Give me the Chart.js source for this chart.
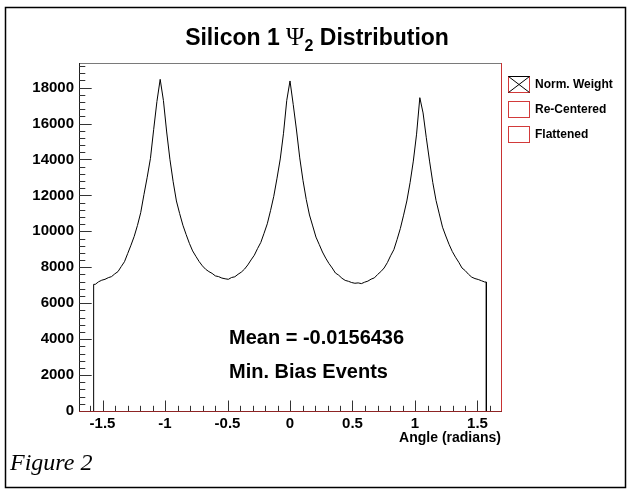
<!DOCTYPE html>
<html>
<head>
<meta charset="utf-8">
<script src="https://cdn.jsdelivr.net/npm/chart.js@4.4.1/dist/chart.umd.min.js"></script>
<style>
  html, body { margin: 0; padding: 0; background: #ffffff; }
  #wrap { width: 632px; height: 493px; position: relative; }
</style>
</head>
<body>
<div id="wrap"><canvas id="c" width="632" height="493"></canvas></div>
<script>
// ---- data -------------------------------------------------------------
const TITLE_MAIN = 'Silicon 1 ';
const TITLE_PSI = '\u03A8';
const TITLE_SUB = '2';
const TITLE_REST = ' Distribution';
const X_LABEL = 'Angle (radians)';
const SERIES_NAMES = ['Norm. Weight', 'Re-Centered', 'Flattened'];
const X_TICKS = [-1.5, -1, -0.5, 0, 0.5, 1, 1.5];
const Y_TICKS = [0, 2000, 4000, 6000, 8000, 10000, 12000, 14000, 16000, 18000];
const BIN_LOW = -Math.PI / 2;
const BIN_HIGH = Math.PI / 2;
// entries per bin, Norm. Weight
const COUNTS = [
  7050, 7190, 7280, 7330, 7420, 7480, 7630, 7760, 8040, 8310,
  8770, 9230, 9720, 10330, 11040, 12050, 13010, 14060, 15680, 17230,
  18460, 17280, 15530, 14010, 12760, 11690, 10990, 10340, 9820, 9330,
  8910, 8610, 8320, 8080, 7890, 7760, 7660, 7520, 7480, 7400,
  7360, 7330, 7430, 7470, 7610, 7730, 7900, 8130, 8410, 8670,
  9040, 9380, 9890, 10420, 11150, 11950, 12960, 14030, 15460, 17290,
  18370, 17050, 15640, 14090, 12840, 11780, 10910, 10300, 9680, 9270,
  8850, 8510, 8210, 7960, 7680, 7560, 7390, 7270, 7220, 7150,
  7110, 7130, 7090, 7170, 7230, 7340, 7410, 7600, 7760, 7960,
  8260, 8640, 8980, 9550, 10160, 10900, 11690, 12710, 13910, 15410,
  17440, 16590, 15210, 13910, 12710, 11720, 10970, 10230, 9740, 9280,
  8880, 8560, 8280, 7960, 7810, 7610, 7450, 7370, 7320, 7250,
  7180
];
const RECENTERED = [];
const FLATTENED = [];
const MEAN = -0.0156436;
const STATS_LINES = ['Mean = ' + MEAN, 'Min. Bias Events'];
const CAPTION = 'Figure 2';

// ---- histogram outline: bin centres, closed down to zero at both edges --
function histPoints(counts) {
  if (!counts.length) return [];
  const n = counts.length, w = (BIN_HIGH - BIN_LOW) / n;
  const pts = [{ x: BIN_LOW, y: 0 }, { x: BIN_LOW, y: counts[0] }];
  counts.forEach((v, i) => pts.push({ x: BIN_LOW + (i + 0.5) * w, y: v }));
  pts.push({ x: BIN_HIGH, y: counts[n - 1] });
  pts.push({ x: BIN_HIGH, y: 0 });
  return pts;
}

const SANS = '"Liberation Sans", Arial, Helvetica, sans-serif';

// frame, inward ticks, legend, labels and caption
const decorations = {
  id: 'decorations',
  afterDraw(chart) {
    const { ctx, chartArea: a, scales: { x, y } } = chart;
    ctx.save();

    // outer border of the figure
    ctx.strokeStyle = '#000';
    ctx.lineWidth = 1.5;
    ctx.strokeRect(5.5, 7.5, 620, 480);

    // frame lines
    ctx.lineWidth = 1;
    ctx.strokeStyle = '#7a7a7a';
    ctx.beginPath(); ctx.moveTo(a.left, a.top + 0.5); ctx.lineTo(a.right, a.top + 0.5); ctx.stroke();
    ctx.strokeStyle = '#c83232';
    ctx.beginPath(); ctx.moveTo(a.right + 0.5, a.top); ctx.lineTo(a.right + 0.5, a.bottom); ctx.stroke();
    ctx.strokeStyle = '#222';
    ctx.beginPath(); ctx.moveTo(a.left + 0.5, a.top); ctx.lineTo(a.left + 0.5, a.bottom); ctx.stroke();

    // ticks pointing into the frame
    ctx.strokeStyle = '#333';
    ctx.beginPath();
    for (let k = -16; k <= 16; k++) {
      const v = k / 10;
      const px = Math.round(x.getPixelForValue(v)) + 0.5;
      const len = (k % 5 === 0) ? 10.5 : 5.2;
      ctx.moveTo(px, a.bottom); ctx.lineTo(px, a.bottom - len);
    }
    for (let k = 0; k <= 48; k++) {
      const v = k * 400;
      if (v > y.max) break;
      const py = Math.round(y.getPixelForValue(v)) + 0.5;
      const len = (k % 5 === 0) ? 12.7 : 6.3;
      ctx.moveTo(a.left, py); ctx.lineTo(a.left + len, py);
    }
    ctx.stroke();

    // bottom axis line
    ctx.strokeStyle = '#8e2424';
    ctx.beginPath(); ctx.moveTo(a.left, a.bottom + 0.5); ctx.lineTo(a.right + 1, a.bottom + 0.5); ctx.stroke();

    // title
    ctx.fillStyle = '#000';
    ctx.textBaseline = 'alphabetic';
    const tBold = 'bold 23px ' + SANS;
    const tPsi = '25px "Liberation Serif", "DejaVu Serif", serif';
    const tSub = 'bold 16px ' + SANS;
    ctx.font = tBold; const w1 = ctx.measureText(TITLE_MAIN).width;
    const w4 = ctx.measureText(TITLE_REST).width;
    ctx.font = tPsi; const w2 = ctx.measureText(TITLE_PSI).width;
    ctx.font = tSub; const w3 = ctx.measureText(TITLE_SUB).width;
    let tx = 317 - (w1 + w2 + w3 + w4) / 2;
    const tb = 45;
    ctx.textAlign = 'left';
    ctx.font = tBold; ctx.fillText(TITLE_MAIN, tx, tb); tx += w1;
    ctx.font = tPsi; ctx.fillText(TITLE_PSI, tx, tb); tx += w2;
    ctx.font = tSub; ctx.fillText(TITLE_SUB, tx, tb + 6); tx += w3;
    ctx.font = tBold; ctx.fillText(TITLE_REST, tx, tb);

    // legend
    const boxes = [76.5, 101.5, 126.5];
    chart.data.datasets.forEach((ds, i) => {
      const bx = 508.5, by = boxes[i], bw = 21, bh = 16;
      ctx.strokeStyle = '#d23a3a';
      ctx.lineWidth = 1;
      ctx.strokeRect(bx, by, bw, bh);
      if (ds.data.length) {
        ctx.strokeStyle = '#000';
        ctx.beginPath();
        ctx.moveTo(bx, by); ctx.lineTo(bx + bw, by + bh);
        ctx.moveTo(bx + bw, by); ctx.lineTo(bx, by + bh);
        ctx.moveTo(bx, by); ctx.lineTo(bx + bw, by);
        ctx.stroke();
      }
      ctx.fillStyle = '#000';
      ctx.font = 'bold 12px ' + SANS;
      ctx.textBaseline = 'middle';
      ctx.fillText(ds.label, 535, by + bh / 2 + 0.5);
    });

    // statistics text
    ctx.textBaseline = 'alphabetic';
    ctx.font = 'bold 20px ' + SANS;
    ctx.fillText(STATS_LINES[0], 229, 344);
    ctx.fillText(STATS_LINES[1], 229, 378);

    // caption
    ctx.font = 'italic 24px "Liberation Serif", "Times New Roman", serif';
    ctx.fillText(CAPTION, 10, 470);

    ctx.restore();
  }
};

new Chart(document.getElementById('c'), {
  type: 'line',
  data: {
    datasets: [
      { label: SERIES_NAMES[0], data: histPoints(COUNTS),
        borderColor: '#000', borderWidth: 1, pointRadius: 0, fill: false, tension: 0 },
      { label: SERIES_NAMES[1], data: histPoints(RECENTERED),
        borderColor: '#d23a3a', borderWidth: 1, pointRadius: 0, fill: false },
      { label: SERIES_NAMES[2], data: histPoints(FLATTENED),
        borderColor: '#d23a3a', borderWidth: 1, pointRadius: 0, fill: false }
    ]
  },
  options: {
    responsive: false,
    animation: false,
    devicePixelRatio: 1,
    layout: { padding: { left: 0, right: 131, top: 63, bottom: 0 } },
    plugins: { legend: { display: false }, tooltip: { enabled: false }, title: { display: false } },
    scales: {
      x: {
        type: 'linear', min: -1.688, max: 1.688,
        grid: { display: false, drawTicks: false },
        border: { display: false },
        afterBuildTicks: s => { s.ticks = X_TICKS.map(v => ({ value: v })); },
        afterFit: s => { s.height = 82; },
        ticks: {
          autoSkip: false, maxRotation: 0, padding: 4, color: '#000',
          font: { family: SANS, weight: 'bold', size: 15 },
          callback: v => String(v)
        },
        title: {
          display: true, text: X_LABEL, align: 'end', color: '#000',
          font: { family: SANS, weight: 'bold', size: 14 },
          padding: { top: 0, bottom: 46 }
        }
      },
      y: {
        type: 'linear', min: 0, max: 19370,
        grid: { display: false, drawTicks: false },
        border: { display: false },
        afterBuildTicks: s => { s.ticks = Y_TICKS.map(v => ({ value: v })); },
        afterFit: s => { s.width = 79; },
        ticks: {
          autoSkip: false, padding: 5, color: '#000',
          font: { family: SANS, weight: 'bold', size: 15 },
          callback: v => String(v)
        }
      }
    }
  },
  plugins: [decorations]
});
</script>
</body>
</html>
